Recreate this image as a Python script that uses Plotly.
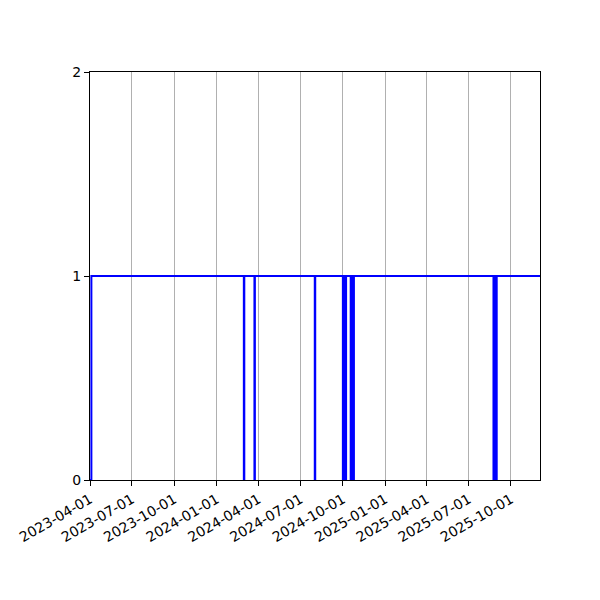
import pandas as pd
import plotly.graph_objects as go

# Daily on/off series: 1 on every day except the listed zero days
start_date = "2023-04-01"
end_date = "2025-12-03"

zero_days = [
    "2023-04-01", "2023-04-02", "2023-04-03",
    "2024-02-29",
    "2024-03-23",
    "2024-08-01",
    "2024-10-01", "2024-10-03", "2024-10-05", "2024-10-07",
    "2024-10-18", "2024-10-20", "2024-10-22", "2024-10-24",
    "2025-08-24", "2025-08-26", "2025-08-28", "2025-08-30",
]

tick_dates = [
    "2023-04-01", "2023-07-01", "2023-10-01", "2024-01-01",
    "2024-04-01", "2024-07-01", "2024-10-01", "2025-01-01",
    "2025-04-01", "2025-07-01", "2025-10-01",
]

# Build the series
dates = pd.date_range(start_date, end_date, freq="D")
df = pd.DataFrame({"date": dates, "value": 1})
df.loc[df["date"].isin(pd.to_datetime(zero_days)), "value"] = 0

fig = go.Figure()
fig.add_trace(go.Scatter(
    x=df["date"],
    y=df["value"],
    mode="lines",
    line=dict(color="blue", width=2, shape="hv"),
    showlegend=False,
))

axis_style = dict(
    showline=True, linecolor="black", linewidth=1, mirror=True,
    ticks="outside", ticklen=5, tickcolor="black", tickwidth=1,
    zeroline=False, automargin=False,
    tickfont=dict(family="DejaVu Sans", size=14, color="black"),
)

# page body adds an 8px offset, margins allow for it
fig.update_layout(
    width=600, height=600,
    margin=dict(l=82, r=68, t=64, b=128),
    plot_bgcolor="white", paper_bgcolor="white",
    xaxis=dict(
        type="date",
        range=[start_date, end_date],
        tickvals=tick_dates,
        ticktext=tick_dates,
        tickangle=-30,
        showgrid=True, gridcolor="#b0b0b0", gridwidth=1,
        **axis_style,
    ),
    yaxis=dict(
        range=[0, 2],
        tickvals=[0, 1, 2],
        showgrid=False,
        **axis_style,
    ),
)

fig.write_html("out.html")
